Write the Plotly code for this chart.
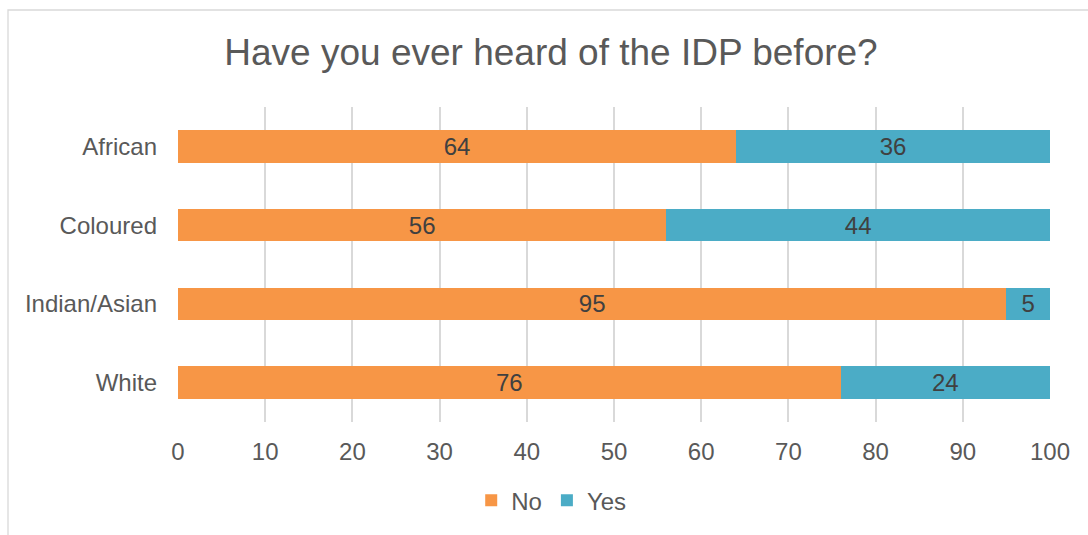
import plotly.graph_objects as go

# Survey responses by population group (percent)
groups = ["African", "Coloured", "Indian/Asian", "White"]
no_pct = [64, 56, 95, 76]
yes_pct = [36, 44, 5, 24]
x_ticks = [0, 10, 20, 30, 40, 50, 60, 70, 80, 90, 100]

ORANGE = "#F79646"
BLUE = "#4BACC6"
FONT = "Liberation Sans, Arial, sans-serif"

fig = go.Figure()
for name, vals, color in [("No", no_pct, ORANGE), ("Yes", yes_pct, BLUE)]:
    fig.add_trace(go.Bar(
        name=name,
        y=groups,
        x=vals,
        orientation="h",
        marker=dict(color=color, line=dict(width=0)),
        text=vals,
        texttemplate="%{text}",
        textposition="inside",
        insidetextanchor="middle",
        textangle=0,
        constraintext="none",
        textfont=dict(family=FONT, size=24, color="#404040"),
    ))

fig.update_layout(
    width=1088,
    height=535,
    barmode="stack",
    bargap=0.59,
    paper_bgcolor="white",
    plot_bgcolor="white",
    margin=dict(l=178, r=38, t=107, b=113),
    font=dict(family=FONT, size=24, color="#595959"),
    title=dict(
        text="Have you ever heard of the IDP before?",
        font=dict(family=FONT, size=37, color="#595959"),
        x=551 / 1088,
        xanchor="center",
        xref="container",
        y=1 - 52 / 535,
        yref="container",
        yanchor="middle",
    ),
    showlegend=True,
    legend=dict(
        orientation="h",
        x=0.428,
        xanchor="center",
        y=-0.25,
        yanchor="middle",
        font=dict(family=FONT, size=24, color="#595959"),
        traceorder="normal",
        itemwidth=30,
    ),
    xaxis=dict(
        range=[0, 100],
        tickvals=x_ticks,
        showgrid=True,
        gridcolor="#d9d9d9",
        gridwidth=1.5,
        zeroline=False,
        showline=False,
        ticks="",
        ticklabelstandoff=13,
        tickfont=dict(family=FONT, size=24, color="#595959"),
    ),
    yaxis=dict(
        categoryorder="array",
        categoryarray=groups,
        autorange="reversed",
        showgrid=False,
        zeroline=False,
        showline=False,
        ticks="",
        ticklabelstandoff=20,
        tickfont=dict(family=FONT, size=24, color="#595959"),
    ),
    shapes=[dict(
        type="rect",
        xref="paper", yref="paper",
        x0=(8 - 178) / 872, x1=1.2,
        y0=-0.6, y1=(422 - 10) / 315,
        line=dict(color="#d9d9d9", width=1.3),
        fillcolor="rgba(0,0,0,0)",
        layer="below",
    )],
)

fig.write_html("out.html")
